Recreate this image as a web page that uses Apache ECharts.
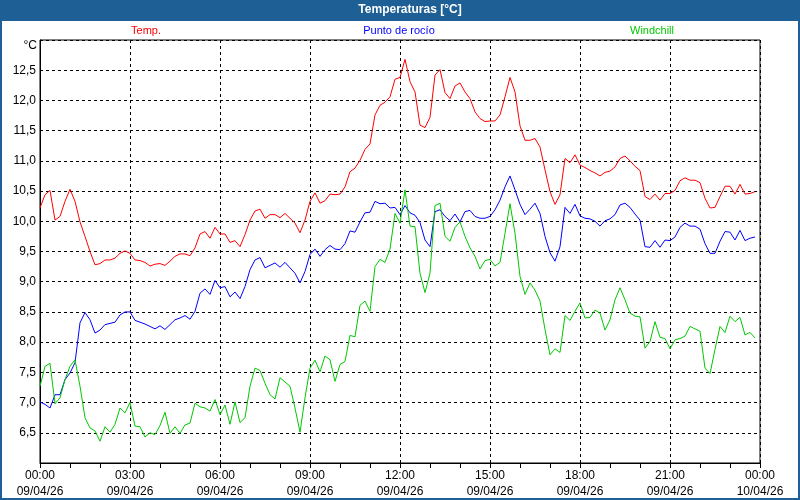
<!DOCTYPE html>
<html>
<head>
<meta charset="utf-8">
<script src="https://cdn.jsdelivr.net/npm/echarts@6/dist/echarts.min.js"></script>
<style>
html,body{margin:0;padding:0;background:#fff;}
#c{width:800px;height:500px;}
</style>
</head>
<body>
<div id="c"></div>
<script>
// 10-minute samples, 00:00 .. 23:50 on 09/04/26
var temp = [
10.22,10.44,10.51,10.02,10.08,10.33,10.53,10.33,9.99,9.75,9.50,9.28,
9.30,9.36,9.36,9.39,9.47,9.51,9.47,9.36,9.35,9.32,9.26,9.29,
9.30,9.27,9.34,9.42,9.46,9.46,9.43,9.56,9.79,9.83,9.72,9.90,
9.79,9.79,9.65,9.68,9.58,9.78,10.02,10.17,10.20,10.05,10.11,10.11,
10.06,10.13,10.05,9.97,9.81,10.02,10.33,10.47,10.30,10.34,10.45,10.44,
10.45,10.57,10.82,10.88,11.01,11.19,11.28,11.76,11.92,11.97,12.06,12.35,
12.38,12.68,12.31,12.14,11.59,11.55,11.72,12.42,12.51,12.13,12.03,12.24,
12.29,12.14,12.03,11.81,11.70,11.65,11.66,11.66,11.76,12.06,12.38,12.14,
11.58,11.34,11.34,11.37,11.23,10.85,10.49,10.28,10.44,11.04,10.97,11.10,
10.93,10.89,10.84,10.80,10.75,10.81,10.83,10.90,11.04,11.08,11.00,10.91,
10.84,10.41,10.36,10.45,10.35,10.46,10.46,10.51,10.67,10.72,10.68,10.68,
10.64,10.38,10.22,10.23,10.41,10.58,10.58,10.45,10.61,10.45,10.46,10.49
];
var dewPoint = [
7.01,6.97,6.91,7.13,7.13,7.38,7.49,7.66,8.32,8.49,8.37,8.15,
8.20,8.29,8.31,8.33,8.45,8.50,8.50,8.36,8.33,8.30,8.26,8.22,
8.27,8.21,8.29,8.37,8.40,8.44,8.38,8.51,8.81,8.88,8.79,9.02,
8.90,8.92,8.75,8.83,8.72,8.92,9.20,9.36,9.40,9.23,9.27,9.31,
9.24,9.32,9.23,9.14,8.98,9.17,9.45,9.54,9.42,9.53,9.60,9.54,
9.53,9.63,9.84,9.82,9.99,10.14,10.15,10.33,10.29,10.30,10.22,10.23,
10.11,10.26,10.14,10.10,9.98,9.69,9.58,10.16,10.19,10.08,10.01,10.12,
9.99,10.16,10.18,10.08,10.05,10.05,10.08,10.19,10.35,10.57,10.75,10.52,
10.28,10.11,10.20,10.30,10.13,9.75,9.48,9.34,9.58,10.23,10.13,10.28,
10.09,10.05,10.04,10.00,9.92,10.01,10.04,10.11,10.27,10.30,10.23,10.12,
10.02,9.58,9.57,9.68,9.57,9.69,9.68,9.74,9.90,9.97,9.92,9.92,
9.87,9.63,9.47,9.47,9.67,9.83,9.82,9.69,9.85,9.68,9.72,9.74
];
var windchill = [
7.27,7.60,7.65,6.98,7.08,7.38,7.60,7.71,7.27,6.75,6.58,6.53,
6.36,6.60,6.51,6.64,6.91,6.83,7.00,6.61,6.60,6.43,6.50,6.47,
6.62,6.84,6.49,6.60,6.49,6.63,6.66,6.99,6.93,6.91,6.86,7.05,
6.80,6.96,6.64,7.01,6.67,6.75,7.27,7.57,7.53,7.32,7.13,7.06,
7.41,7.34,7.27,6.91,6.51,7.08,7.57,7.70,7.51,7.77,7.71,7.35,
7.63,7.68,8.11,8.09,8.61,8.68,8.51,9.25,9.37,9.32,9.54,10.13,
9.97,10.52,9.92,9.91,9.14,8.82,9.14,10.26,10.30,9.75,9.67,9.90,
9.99,9.75,9.56,9.42,9.21,9.35,9.37,9.26,9.32,9.80,10.29,9.80,
9.09,8.79,8.98,8.86,8.68,8.21,7.79,7.89,7.83,8.44,8.36,8.51,
8.65,8.40,8.41,8.53,8.48,8.20,8.37,8.70,8.90,8.70,8.48,8.43,
8.42,7.90,8.01,8.34,8.08,8.06,7.89,8.04,8.06,8.10,8.26,8.22,
8.18,7.57,7.48,7.88,8.26,8.16,8.43,8.34,8.41,8.12,8.16,8.07
];
var seriesNames = ['Temp.', 'Punto de rocío', 'Windchill'];
var seriesColors = ['#ff0000', '#0000ff', '#00c800'];
var tickTimes = ['00:00','03:00','06:00','09:00','12:00','15:00','18:00','21:00','00:00'];
var tickDates = ['09/04/26','09/04/26','09/04/26','09/04/26','09/04/26','09/04/26','09/04/26','09/04/26','10/04/26'];

// category axis: one slot per 10-minute sample plus the closing midnight
var categories = [];
for (var i = 0; i <= 144; i++) categories.push(String(i));

var chart = echarts.init(document.getElementById('c'), null, {renderer: 'canvas'});
var font = 'Liberation Sans, Arial, sans-serif';

function mkSeries(name, data, color) {
  return {
    name: name, type: 'line', data: data, symbol: 'none', smooth: false,
    lineStyle: {color: color, width: 1}, itemStyle: {color: color},
    animation: false, silent: true
  };
}

var option = {
  backgroundColor: '#ffffff',
  animation: false,
  grid: {left: 40, right: 40, top: 40, bottom: 37, show: true, borderColor: '#000', borderWidth: 1, backgroundColor: 'transparent'},
  xAxis: {
    type: 'category', data: categories, boundaryGap: false,
    axisLine: {lineStyle: {color: '#000', width: 1}},
    axisTick: {show: true, interval: 5, length: 5, lineStyle: {color: '#000'}, alignWithLabel: true},
    axisLabel: {
      interval: 17, margin: 5, color: '#000', fontFamily: font, fontSize: 12, lineHeight: 16,
      formatter: function (v, idx) {
        var k = Math.round(idx / 18);
        return tickTimes[k] + '\n' + tickDates[k];
      }
    },
    splitLine: {show: true, interval: 17, lineStyle: {color: '#000', type: [3, 3], width: 1}}
  },
  yAxis: {
    type: 'value', min: 6, max: 13, interval: 0.5,
    axisLine: {show: true, lineStyle: {color: '#000'}},
    axisTick: {show: false},
    axisLabel: {
      color: '#000', fontFamily: font, fontSize: 12, margin: 4,
      formatter: function (v) {
        if (v <= 6 || v >= 13) return '';
        return v.toFixed(1).replace('.', ',');
      }
    },
    splitLine: {show: true, lineStyle: {color: '#000', type: [3, 3], width: 1}}
  },
  series: [
    mkSeries(seriesNames[0], temp, seriesColors[0]),
    mkSeries(seriesNames[1], dewPoint, seriesColors[1]),
    mkSeries(seriesNames[2], windchill, seriesColors[2])
  ],
  graphic: [
    {type: 'rect', shape: {x: 1, y: 1, width: 798, height: 498}, style: {fill: 'none', stroke: '#1e6096', lineWidth: 2}, z: 100, silent: true},
    {type: 'rect', shape: {x: 0, y: 0, width: 800, height: 21}, style: {fill: '#1e6096'}, z: 100, silent: true},
    {type: 'text', x: 410, y: 10, style: {text: 'Temperaturas [°C]', fill: '#fff', font: 'bold 12px ' + font, align: 'center', verticalAlign: 'middle'}, z: 101, silent: true},
    {type: 'text', x: 146, y: 31, style: {text: seriesNames[0], fill: seriesColors[0], font: '11px ' + font, align: 'center', verticalAlign: 'middle'}, silent: true},
    {type: 'text', x: 399, y: 31, style: {text: seriesNames[1], fill: seriesColors[1], font: '11px ' + font, align: 'center', verticalAlign: 'middle'}, silent: true},
    {type: 'text', x: 652, y: 31, style: {text: seriesNames[2], fill: seriesColors[2], font: '11px ' + font, align: 'center', verticalAlign: 'middle'}, silent: true},
    {type: 'text', x: 37, y: 46, style: {text: '°C', fill: '#000', font: '12px ' + font, align: 'right', verticalAlign: 'middle'}, silent: true}
  ]
};
chart.setOption(option);
</script>
</body>
</html>
